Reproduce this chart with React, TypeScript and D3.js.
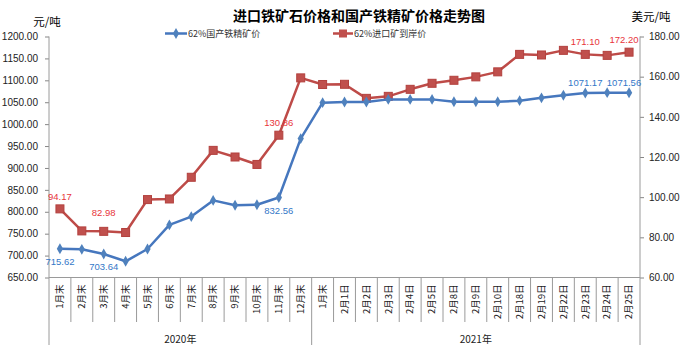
import React, { useEffect, useRef } from 'react';
import * as d3 from 'd3';

// categories (x axis)
const categories = [
  '1月末', '2月末', '3月末', '4月末', '5月末', '6月末', '7月末', '8月末', '9月末', '10月末', '11月末', '12月末',
  '1月末', '2月1日', '2月2日', '2月3日', '2月4日', '2月5日', '2月8日', '2月9日', '2月10日', '2月18日',
  '2月19日', '2月22日', '2月23日', '2月24日', '2月25日',
];
const years = ['2020年', '2021年'];
const yearSpans = [[0, 12], [12, 27]];

// 62%国产铁精矿价 (元/吨, left axis)
const domestic = [
  715.62, 714.3, 703.64, 687, 715, 770, 789, 826, 815, 816, 832.56, 967,
  1049, 1050.5, 1050.5, 1056.5, 1056.5, 1056.5, 1051, 1051, 1051, 1053.5,
  1060, 1066, 1071.17, 1071.8, 1071.56,
];
// 62%进口矿到岸价 (美元/吨, right axis)
const imported = [
  94.17, 83.2, 82.98, 82.4, 98.8, 99.1, 109.9, 123.3, 120.0, 116.3, 130.86, 159.4,
  156.1, 156.2, 149.2, 150.2, 153.7, 156.7, 158.2, 159.9, 162.4, 171.1,
  170.8, 173.1, 171.1, 170.6, 172.2,
];
const labelIdx = [0, 2, 10, 24, 26];

const leftTicks = d3.range(650, 1201, 50);
const rightTicks = d3.range(60, 181, 20);

const W = 697;
const H = 353;
const BLUE = '#4677BE';
const RED = '#BE4B48';
const CJK = '"Noto Sans CJK SC", sans-serif';
const NUM = '"Liberation Sans", Arial, sans-serif';

const App = () => {
  const svgRef = useRef(null);

  useEffect(() => {
    const margin = { top: 36.5, right: 57, bottom: 75.5, left: 49 };
    const left = margin.left, right = W - margin.right;
    const top = margin.top, bottom = H - margin.bottom;

    const x = d3.scaleBand().domain(d3.range(categories.length)).range([left, right]);
    const yL = d3.scaleLinear().domain([650, 1200]).range([bottom, top]);
    const yR = d3.scaleLinear().domain([60, 180]).range([bottom, top]);
    const cx = i => x(i) + x.bandwidth() / 2;

    const svg = d3.select(svgRef.current);
    svg.selectAll('*').remove();

    // title
    svg.append('text')
      .attr('x', 359).attr('y', 21)
      .attr('text-anchor', 'middle')
      .style('font-family', CJK).style('font-size', '14px').style('font-weight', 'bold')
      .text('进口铁矿石价格和国产铁精矿价格走势图');

    svg.append('text').attr('x', 47).attr('y', 26).attr('text-anchor', 'middle')
      .style('font-family', CJK).style('font-size', '11.5px').text('元/吨');
    svg.append('text').attr('x', 651).attr('y', 21).attr('text-anchor', 'middle')
      .style('font-family', CJK).style('font-size', '11.5px').text('美元/吨');

    // axes
    const axL = svg.append('g')
      .attr('transform', `translate(${left},0)`)
      .call(d3.axisLeft(yL).tickValues(leftTicks).tickFormat(d3.format('.2f')).tickSize(4).tickPadding(7));
    const axR = svg.append('g')
      .attr('transform', `translate(${right},0)`)
      .call(d3.axisRight(yR).tickValues(rightTicks).tickFormat(d3.format('.2f')).tickSize(4).tickPadding(5));
    [axL, axR].forEach(a => {
      a.select('.domain').remove();
      a.selectAll('.tick line').attr('stroke', '#868686');
      a.selectAll('.tick text').style('font-family', NUM).style('font-size', '10px').attr('fill', '#222');
    });

    const grid = svg.append('g').attr('stroke', '#9a9a9a').attr('stroke-width', 1);
    grid.append('line').attr('x1', left).attr('x2', left).attr('y1', top).attr('y2', 345);
    grid.append('line').attr('x1', right).attr('x2', right).attr('y1', top).attr('y2', 345);
    grid.append('line').attr('x1', left).attr('x2', right).attr('y1', bottom).attr('y2', bottom);
    for (let i = 1; i < categories.length; i++) {
      const bx = x(i);
      const isYear = yearSpans.some(s => s[0] === i);
      grid.append('line').attr('x1', bx).attr('x2', bx).attr('y1', bottom).attr('y2', isYear ? 345 : 322);
    }

    // category labels (rotated)
    svg.append('g').selectAll('text')
      .data(categories)
      .join('text')
      .attr('transform', (d, i) => `translate(${cx(i) + 3.3},${bottom + 7}) rotate(-90)`)
      .attr('text-anchor', 'end')
      .style('font-family', CJK).style('font-size', '9.5px').attr('fill', '#222')
      .text(d => d);

    svg.append('g').selectAll('text')
      .data(years)
      .join('text')
      .attr('x', (d, i) => (x(yearSpans[i][0]) + x(yearSpans[i][1] - 1) + x.bandwidth()) / 2)
      .attr('y', 343)
      .attr('text-anchor', 'middle')
      .style('font-family', CJK).style('font-size', '10px').attr('fill', '#222')
      .text(d => d);

    // lines
    const lineL = d3.line().x((d, i) => cx(i)).y(d => yL(d));
    const lineR = d3.line().x((d, i) => cx(i)).y(d => yR(d));

    svg.append('path').datum(imported).attr('d', lineR)
      .attr('fill', 'none').attr('stroke', RED).attr('stroke-width', 2.5).attr('stroke-linejoin', 'round');
    svg.append('g').selectAll('rect').data(imported).join('rect')
      .attr('x', (d, i) => cx(i) - 4).attr('y', d => yR(d) - 4)
      .attr('width', 8).attr('height', 8).attr('fill', '#C0504D').attr('stroke', '#B3413E');

    svg.append('path').datum(domestic).attr('d', lineL)
      .attr('fill', 'none').attr('stroke', BLUE).attr('stroke-width', 2.5).attr('stroke-linejoin', 'round');
    const diamond = d3.symbol().type(d3.symbolDiamond).size(34);
    svg.append('g').selectAll('path').data(domestic).join('path')
      .attr('transform', (d, i) => `translate(${cx(i)},${yL(d)})`)
      .attr('d', diamond).attr('fill', '#4F81BD');

    // data labels
    const clampX = v => Math.min(v, right - 16);
    svg.append('g').selectAll('text').data(labelIdx).join('text')
      .attr('x', i => clampX(cx(i)))
      .attr('y', i => yR(imported[i]) - (i === 2 ? 15 : 9))
      .attr('text-anchor', 'middle')
      .style('font-family', NUM).style('font-size', '9.5px').attr('fill', '#E8343A')
      .text(i => imported[i].toFixed(2));
    svg.append('g').selectAll('text').data(labelIdx).join('text')
      .attr('x', i => clampX(cx(i)))
      .attr('y', i => i < 12 ? yL(domestic[i]) + 16 : yL(domestic[i]) - 7)
      .attr('text-anchor', 'middle')
      .style('font-family', NUM).style('font-size', '9.5px').attr('fill', '#3478C8')
      .text(i => domestic[i].toFixed(2));

    // legend
    const legend = svg.append('g').style('font-family', CJK).style('font-size', '9px').attr('fill', '#333');
    legend.append('line').attr('x1', 165).attr('x2', 187).attr('y1', 33.5).attr('y2', 33.5)
      .attr('stroke', BLUE).attr('stroke-width', 2.5);
    legend.append('path').attr('transform', 'translate(176,33.5)').attr('d', diamond).attr('fill', '#4F81BD');
    legend.append('text').attr('x', 188).attr('y', 37).text('62%国产铁精矿价');
    legend.append('line').attr('x1', 333).attr('x2', 353).attr('y1', 33.5).attr('y2', 33.5)
      .attr('stroke', RED).attr('stroke-width', 2.5);
    legend.append('rect').attr('x', 339).attr('y', 29.5).attr('width', 8).attr('height', 8).attr('fill', '#C0504D');
    legend.append('text').attr('x', 354).attr('y', 37).text('62%进口矿到岸价');
  }, []);

  return (
    <svg ref={svgRef} width={W} height={H} style={{ position: 'absolute', left: 0, top: 0, background: '#fff' }} />
  );
};

export default App;
